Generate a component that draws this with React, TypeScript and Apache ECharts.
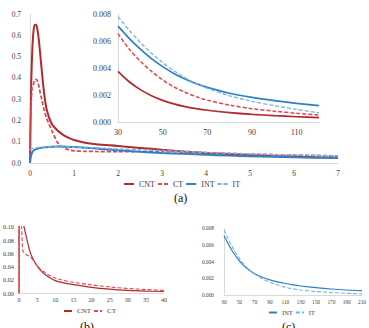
import React, { useEffect, useRef } from 'react';
import * as echarts from 'echarts';

// ---- Panel (a): main chart ----
const mainX = [0, 0.02, 0.05, 0.08, 0.11, 0.14, 0.18, 0.21, 0.265, 0.32, 0.38, 0.49, 0.64, 0.76, 0.88, 1.0, 1.25, 1.5, 2, 2.5, 3, 3.5, 4, 4.5, 5, 5.5, 6, 6.5, 7];
const mainCNT = [0, 0.3, 0.52, 0.62, 0.65, 0.65, 0.61, 0.56, 0.44, 0.33, 0.25, 0.186, 0.15, 0.131, 0.118, 0.108, 0.095, 0.088, 0.08, 0.071, 0.062, 0.054, 0.047, 0.042, 0.037, 0.033, 0.03, 0.027, 0.025];
const mainCT = [0, 0.25, 0.355, 0.37, 0.39, 0.393, 0.38, 0.35, 0.30, 0.25, 0.21, 0.155, 0.092, 0.072, 0.062, 0.057, 0.055, 0.054, 0.053, 0.054, 0.054, 0.052, 0.048, 0.045, 0.042, 0.039, 0.037, 0.035, 0.033];
const mainINT = [0, 0.03, 0.05, 0.058, 0.062, 0.065, 0.068, 0.07, 0.072, 0.073, 0.074, 0.076, 0.077, 0.077, 0.076, 0.075, 0.072, 0.068, 0.06, 0.053, 0.047, 0.043, 0.039, 0.035, 0.032, 0.029, 0.027, 0.025, 0.023];
const mainIT = [0.064, 0.066, 0.068, 0.069, 0.07, 0.071, 0.072, 0.073, 0.074, 0.075, 0.075, 0.076, 0.077, 0.077, 0.076, 0.075, 0.073, 0.071, 0.066, 0.062, 0.058, 0.054, 0.05, 0.046, 0.043, 0.04, 0.038, 0.036, 0.034];
const mainYTicks = { min: 0, max: 0.7, step: 0.1 };
const mainXTicks = { min: 0, max: 7, step: 1 };

// ---- Inset of (a) ----
const insetX = [30, 35, 40, 45, 50, 55, 60, 65, 70, 80, 90, 100, 110, 120];
const insetCNT = [0.00375, 0.00298, 0.0024, 0.00195, 0.0016, 0.00134, 0.00114, 0.00099, 0.00087, 0.0007, 0.00057, 0.00047, 0.00039, 0.00032];
const insetCT = [0.00655, 0.0054, 0.0045, 0.00375, 0.00312, 0.0026, 0.0022, 0.00188, 0.00162, 0.00125, 0.00099, 0.0008, 0.00064, 0.00052];
const insetINT = [0.0071, 0.0062, 0.0054, 0.0047, 0.0041, 0.0036, 0.00318, 0.00284, 0.00256, 0.00213, 0.00182, 0.00158, 0.00138, 0.00121];
const insetIT = [0.0078, 0.0068, 0.0059, 0.0051, 0.0044, 0.0038, 0.00328, 0.00286, 0.0025, 0.00194, 0.00153, 0.00121, 0.00093, 0.00068];

// ---- Panel (b) ----
const bX = [0, 0.1, 0.5, 1, 1.5, 2, 3, 4, 5, 6, 7, 8, 10, 12, 15, 20, 25, 30, 35, 40];
const bCNT = [0, 0.6, 0.186, 0.11, 0.097, 0.085, 0.063, 0.05, 0.041, 0.034, 0.029, 0.025, 0.019, 0.016, 0.013, 0.009, 0.0063, 0.0045, 0.0034, 0.0027];
const bCT = [0, 0.38, 0.155, 0.065, 0.06, 0.058, 0.055, 0.049, 0.042, 0.036, 0.032, 0.028, 0.023, 0.0198, 0.0165, 0.0127, 0.0096, 0.0073, 0.0056, 0.0043];

// ---- Panel (c) ----
const cX = [30, 40, 50, 60, 70, 80, 90, 100, 110, 120, 130, 150, 170, 190, 210];
const cINT = [0.0071, 0.0054, 0.0041, 0.00318, 0.00256, 0.00213, 0.00182, 0.00158, 0.00138, 0.00121, 0.00108, 0.00088, 0.00072, 0.0006, 0.00052];
const cIT = [0.0078, 0.0059, 0.0044, 0.00328, 0.0025, 0.00194, 0.00153, 0.00121, 0.00093, 0.00074, 0.0006, 0.00042, 0.0003, 0.0002, 0.00012];

const seriesNames = ['CNT', 'CT', 'INT', 'IT'];
const panelLabels = ['(a)', '(b)', '(c)'];

const COLORS: Record<string, string> = { CNT: '#B22A2E', CT: '#E0464B', INT: '#2F80C3', IT: '#74B4E2' };
const DASHED: Record<string, boolean> = { CNT: false, CT: true, INT: false, IT: true };
const FONT = '"Liberation Serif", "Times New Roman", serif';
const AXIS_COLOR = '#D9D9D9';
const TEXT_COLOR = '#404040';

const zip = (xs: number[], ys: number[]) => xs.map((x, i) => [x, ys[i]]);

function mkSeries(name: string, xs: number[], ys: number[], idx: number, width: number) {
  return {
    type: 'line',
    name,
    xAxisIndex: idx,
    yAxisIndex: idx,
    data: zip(xs, ys),
    showSymbol: false,
    symbol: 'none',
    smooth: 0.3,
    clip: true,
    color: COLORS[name],
    lineStyle: { color: COLORS[name], width, type: DASHED[name] ? [4, 2] : 'solid' },
  };
}

function mkAxis(gridIndex: number, min: number, max: number, interval: number, fmt: (v: number) => string, fontSize: number, margin: number) {
  return {
    type: 'value',
    gridIndex,
    min,
    max,
    interval,
    axisLine: { show: true, lineStyle: { color: AXIS_COLOR, width: 1 } },
    axisTick: { show: false },
    splitLine: { show: false },
    axisLabel: { color: TEXT_COLOR, fontFamily: FONT, fontSize, margin, formatter: fmt },
  };
}

export default function App() {
  const ref = useRef<HTMLDivElement>(null);
  useEffect(() => {
    const chart = echarts.init(ref.current!, null, { renderer: 'svg' });
    const legendBase = {
      itemStyle: { opacity: 0 },
      itemGap: 2,
      padding: 0,
    };
    const option = {
      animation: false,
      backgroundColor: '#ffffff',
      grid: [
        { left: 30, top: 14, width: 308, height: 149 },
        { left: 118, top: 14, width: 201, height: 108 },
        { left: 16, top: 226.7, width: 148, height: 66.6 },
        { left: 224, top: 228.3, width: 140.3, height: 66.7 },
      ],
      xAxis: [
        mkAxis(0, mainXTicks.min, mainXTicks.max, mainXTicks.step, (v) => String(v), 7.5, 6),
        mkAxis(1, 30, 120, 20, (v) => (v === 120 ? '' : String(v)), 8, 6),
        mkAxis(2, 0, 40, 5, (v) => String(v), 6, 4),
        mkAxis(3, 30, 210, 20, (v) => String(v), 5.3, 4),
      ],
      yAxis: [
        mkAxis(0, mainYTicks.min, mainYTicks.max, mainYTicks.step, (v) => v.toFixed(1), 7.5, 9),
        mkAxis(1, 0, 0.008, 0.002, (v) => v.toFixed(3), 8, 7),
        mkAxis(2, 0, 0.1, 0.02, (v) => v.toFixed(2), 6.3, 5),
        mkAxis(3, 0, 0.008, 0.002, (v) => v.toFixed(3), 5.3, 10),
      ],
      legend: [
        {
          ...legendBase,
          data: seriesNames,
          left: 123,
          top: 180,
          itemWidth: 10,
          itemHeight: 8,
          textStyle: { fontFamily: FONT, fontSize: 8, color: TEXT_COLOR },
        },
        {
          ...legendBase,
          data: ['CNT', 'CT'],
          left: 63,
          top: 307.5,
          itemWidth: 8,
          itemHeight: 7,
          textStyle: { fontFamily: FONT, fontSize: 7, color: TEXT_COLOR },
        },
        {
          ...legendBase,
          data: ['INT', 'IT'],
          left: 268,
          top: 309,
          itemWidth: 8,
          itemHeight: 7,
          textStyle: { fontFamily: FONT, fontSize: 6.5, color: TEXT_COLOR },
        },
      ],
      graphic: [
        { type: 'text', left: 174, top: 191.5, style: { text: panelLabels[0], font: `12px ${FONT}`, fill: '#111' } },
        { type: 'text', left: 80, top: 320.5, style: { text: panelLabels[1], font: `12px ${FONT}`, fill: '#111' } },
        { type: 'text', left: 282, top: 320.5, style: { text: panelLabels[2], font: `12px ${FONT}`, fill: '#111' } },
      ],
      series: [
        mkSeries('CNT', mainX, mainCNT, 0, 2),
        mkSeries('CT', mainX, mainCT, 0, 1.7),
        mkSeries('INT', mainX, mainINT, 0, 2),
        mkSeries('IT', mainX, mainIT, 0, 1.5),
        mkSeries('CNT', insetX, insetCNT, 1, 1.7),
        mkSeries('CT', insetX, insetCT, 1, 1.5),
        mkSeries('INT', insetX, insetINT, 1, 1.7),
        mkSeries('IT', insetX, insetIT, 1, 1.3),
        mkSeries('CNT', bX, bCNT, 2, 1.2),
        mkSeries('CT', bX, bCT, 2, 1.1),
        mkSeries('INT', cX, cINT, 3, 1.2),
        mkSeries('IT', cX, cIT, 3, 1.1),
      ],
    };
    chart.setOption(option as any);
    return () => chart.dispose();
  }, []);
  return <div ref={ref} style={{ position: 'fixed', left: 0, top: 0, width: 369, height: 328 }} />;
}
